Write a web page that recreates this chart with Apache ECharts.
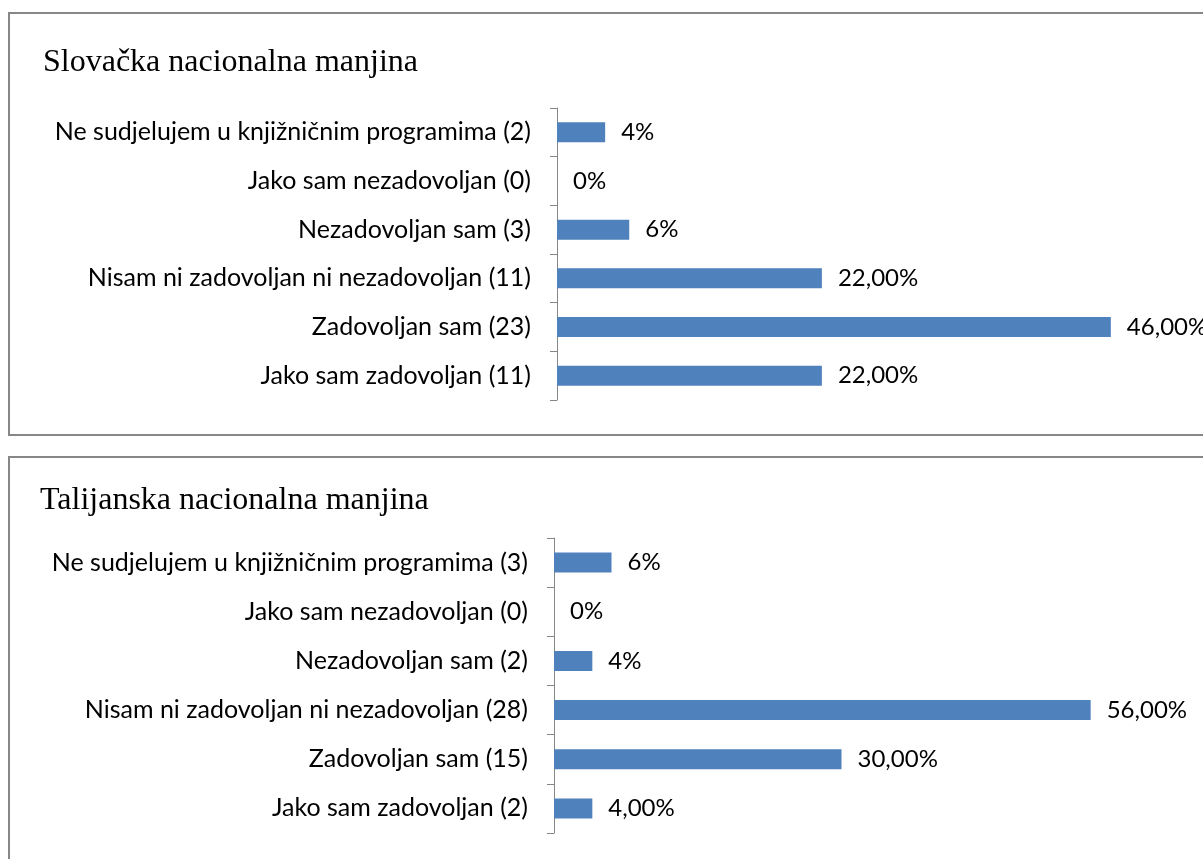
<!DOCTYPE html>
<html><head><meta charset="utf-8">
<script src="https://cdn.jsdelivr.net/npm/echarts@6/dist/echarts.min.js"></script>
<style>html,body{margin:0;padding:0;background:#fff}#c{width:1203px;height:859px}</style>
</head><body><div id="c"></div>
<script>
// Data (category axis lists bottom-to-top)
const title1 = 'Slovačka nacionalna manjina';
const categories1 = ['Jako sam zadovoljan (11)', 'Zadovoljan sam (23)', 'Nisam ni zadovoljan ni nezadovoljan (11)', 'Nezadovoljan sam (3)', 'Jako sam nezadovoljan (0)', 'Ne sudjelujem u knjižničnim programima (2)'];
const values1 = [22, 46, 22, 6, 0, 4];
const labels1 = ['22,00%', '46,00%', '22,00%', '6%', '0%', '4%'];

const title2 = 'Talijanska nacionalna manjina';
const categories2 = ['Jako sam zadovoljan (2)', 'Zadovoljan sam (15)', 'Nisam ni zadovoljan ni nezadovoljan (28)', 'Nezadovoljan sam (2)', 'Jako sam nezadovoljan (0)', 'Ne sudjelujem u knjižničnim programima (3)'];
const values2 = [4, 30, 56, 4, 0, 6];
const labels2 = ['4,00%', '30,00%', '56,00%', '4%', '0%', '6%'];

const labelFont = 'Lato';
const chart = echarts.init(document.getElementById('c'), null, {renderer: 'canvas'});

function yAx(idx, cats) {
  return {
    type: 'category', gridIndex: idx, data: cats,
    axisLine: {lineStyle: {color: '#868686', width: 1}},
    axisTick: {show: true, length: 7, inside: false, lineStyle: {color: '#868686'}},
    axisLabel: {color: '#000', fontFamily: labelFont, fontSize: 25, margin: 26}
  };
}
function xAx(idx, max) {
  return {type: 'value', gridIndex: idx, min: 0, max: max, show: false};
}
function ser(idx, vals, labs) {
  return {
    type: 'bar', xAxisIndex: idx, yAxisIndex: idx, data: vals, barWidth: 20,
    itemStyle: {color: '#4F81BD', borderWidth: 0},
    label: {show: true, position: 'right', distance: 16, color: '#000', fontFamily: labelFont, fontSize: 24,
      formatter: p => labs[p.dataIndex]},
    silent: true
  };
}

chart.setOption({
  animation: false,
  title: [
    {text: title1, left: 38, top: 42, textStyle: {fontFamily: 'Liberation Serif', fontWeight: 'normal', fontSize: 32, color: '#000'}},
    {text: title2, left: 35, top: 480, textStyle: {fontFamily: 'Liberation Serif', fontWeight: 'normal', fontSize: 32, color: '#000'}}
  ],
  graphic: [
    {type: 'rect', shape: {x: 9, y: 13, width: 1220, height: 422}, style: {fill: 'none', stroke: '#878787', lineWidth: 2}, silent: true},
    {type: 'rect', shape: {x: 9, y: 457, width: 1220, height: 430}, style: {fill: 'none', stroke: '#878787', lineWidth: 2}, silent: true}
  ],
  grid: [
    {left: 557, top: 108, width: 602, height: 292},
    {left: 554, top: 538, width: 575, height: 295}
  ],
  xAxis: [xAx(0, 50), xAx(1, 60)],
  yAxis: [yAx(0, categories1), yAx(1, categories2)],
  series: [ser(0, values1, labels1), ser(1, values2, labels2)]
});
</script></body></html>
